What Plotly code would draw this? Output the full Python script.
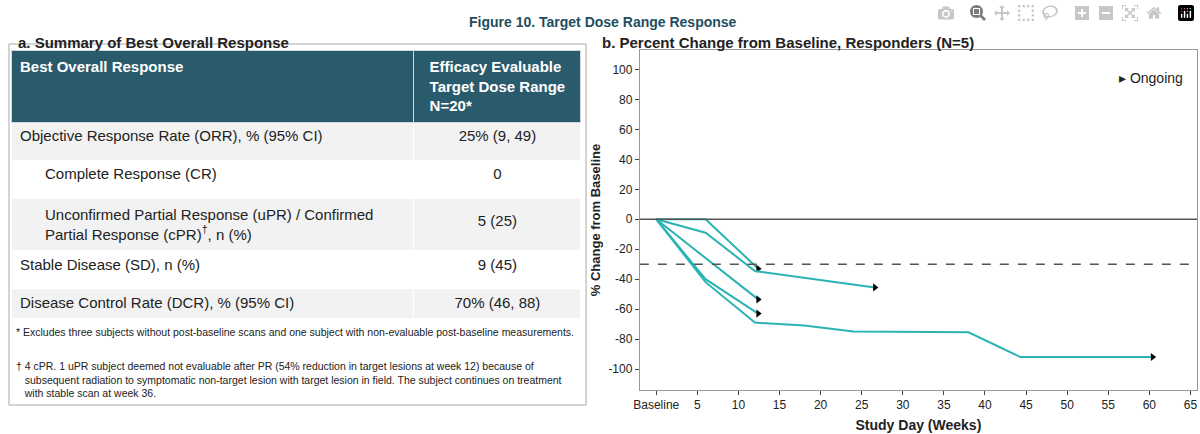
import plotly.graph_objects as go

# table data
row_labels = [
    "Objective Response Rate (ORR), % (95% CI)",
    "      Complete Response (CR)",
    "      Unconfirmed Partial Response (uPR) / Confirmed<br>      Partial Response (cPR)<sup>†</sup>, n (%)",
    "Stable Disease (SD), n (%)",
    "Disease Control Rate (DCR), % (95% CI)",
]
row_values = ["25% (9, 49)", "0", "<br>5 (25)", "9 (45)", "70% (46, 88)"]
header_cols = ["<br><b>Best Overall Response</b>",
               "<b>Efficacy Evaluable<br>Target Dose Range<br>N=20*</b>"]

# responder curves (weeks, % change)
weeks_1 = [0, 6, 12.4]
pct_1 = [0, 0, -33]
weeks_2 = [0, 6, 12, 26.6]
pct_2 = [0, -9, -34.5, -45.5]
weeks_3 = [0, 12.4]
pct_3 = [0, -53.5]
weeks_4 = [0, 6, 12.4]
pct_4 = [0, -40, -63]
weeks_5 = [0, 6, 12, 18, 24, 38, 44.3, 60.4]
pct_5 = [0, -42, -69, -71, -75, -75.5, -92, -92]

x_ticks = [0, 5, 10, 15, 20, 25, 30, 35, 40, 45, 50, 55, 60, 65]
x_tick_text = ["Baseline"] + [str(t) for t in x_ticks[1:]]
y_ticks = [100, 80, 60, 40, 20, 0, -20, -40, -60, -80, -100]
y_tick_text = [str(t) for t in y_ticks]

TEAL = "#2ab3b3"
DARK = "#2a5b6c"

fig = go.Figure()

fig.add_trace(go.Table(
    domain=dict(x=[6 / 1200, 578 / 1200], y=[1 - 318 / 434, 1 - 50 / 434]),
    columnwidth=[404, 168],
    header=dict(values=header_cols, fill_color=DARK, height=64,
                font=dict(color="white", size=15, family="Arial"),
                align=["left", "center"], line=dict(color="#d0d8dc", width=1)),
    cells=dict(values=[row_labels, row_values],
               fill_color=[["#f2f2f2", "white", "#f2f2f2", "white", "#f2f2f2"]] * 2,
               height=38, align=["left", "center"],
               font=dict(color="#222", size=15, family="Arial"),
               line=dict(color="white", width=1)),
))

for w, p in [(weeks_1, pct_1), (weeks_2, pct_2), (weeks_3, pct_3),
             (weeks_4, pct_4), (weeks_5, pct_5)]:
    fig.add_trace(go.Scatter(x=w, y=p, mode="lines", line=dict(color=TEAL, width=2),
                             showlegend=False, hoverinfo="skip"))
    fig.add_trace(go.Scatter(x=[w[-1]], y=[p[-1]], mode="markers",
                             marker=dict(symbol="triangle-right", size=7, color="black"),
                             showlegend=False, hoverinfo="skip"))

fig.add_hline(y=0, line=dict(color="#555", width=1.5))
fig.add_hline(y=-30, line=dict(color="#555", width=1.5, dash="dash"))

fig.update_xaxes(domain=[637 / 1200, 1197 / 1200], range=[-2, 65.8],
                 tickvals=x_ticks, ticktext=x_tick_text, ticks="outside", ticklen=4,
                 showgrid=False, zeroline=False, showline=True, mirror=True,
                 linecolor="#999", tickfont=dict(size=12, color="#222"),
                 title=dict(text="<b>Study Day (Weeks)</b>", font=dict(size=14, color="#222"),
                            standoff=8))
fig.update_yaxes(domain=[1 - 390 / 434, 1 - 50 / 434], range=[-114, 113],
                 tickvals=y_ticks, ticktext=y_tick_text, ticks="outside", ticklen=4,
                 showgrid=False, zeroline=False, showline=True, mirror=True,
                 linecolor="#999", tickfont=dict(size=12, color="#222"),
                 title=dict(text="<b>% Change from Baseline</b>", font=dict(size=13, color="#222"),
                            standoff=4))

# outer box of the left panel
fig.add_shape(type="rect", xref="paper", yref="paper",
              x0=3 / 1200, x1=583 / 1200, y0=1 - 405 / 434, y1=1 - 44 / 434,
              line=dict(color="#aaa", width=1))

anns = [
    dict(x=0.5, y=1 - 12 / 434, text="<b>Figure 10. Target Dose Range Response</b>",
         font=dict(size=14, color="#1f4e5f"), xanchor="center"),
    dict(x=10 / 1200, y=1 - 32 / 434, text="<b>a. Summary of Best Overall Response</b>",
         font=dict(size=15, color="#222"), xanchor="left"),
    dict(x=597 / 1200, y=1 - 32 / 434,
         text="<b>b. Percent Change from Baseline, Responders (N=5)</b>",
         font=dict(size=15, color="#222"), xanchor="left"),
    dict(x=8 / 1200, y=1 - 340 / 434,
         text="* Excludes three subjects without post-baseline scans and one subject with non-evaluable post-baseline measurements.",
         font=dict(size=10.5, color="#222"), xanchor="left"),
    dict(x=8 / 1200, y=1 - 358 / 434, yanchor="top",
         text="† 4 cPR. 1 uPR subject deemed not evaluable after PR (54% reduction in target lesions at week 12) because of<br>"
              "   subsequent radiation to symptomatic non-target lesion with target lesion in field. The subject continues on treatment<br>"
              "   with stable scan at week 36.",
         font=dict(size=10.5, color="#222"), xanchor="left", align="left"),
    dict(x=1185 / 1200, y=1 - 68 / 434, text="▸ Ongoing",
         font=dict(size=14, color="#222"), xanchor="right"),
]
for a in anns:
    fig.add_annotation(xref="paper", yref="paper", showarrow=False, **a)

fig.update_layout(width=1200, height=434, margin=dict(l=0, r=0, t=0, b=0),
                  paper_bgcolor="white", plot_bgcolor="white",
                  font=dict(family="Arial, Liberation Sans"))

fig.write_html("out.html",
               post_script="document.body.style.margin='0';document.body.style.overflow='hidden';")
